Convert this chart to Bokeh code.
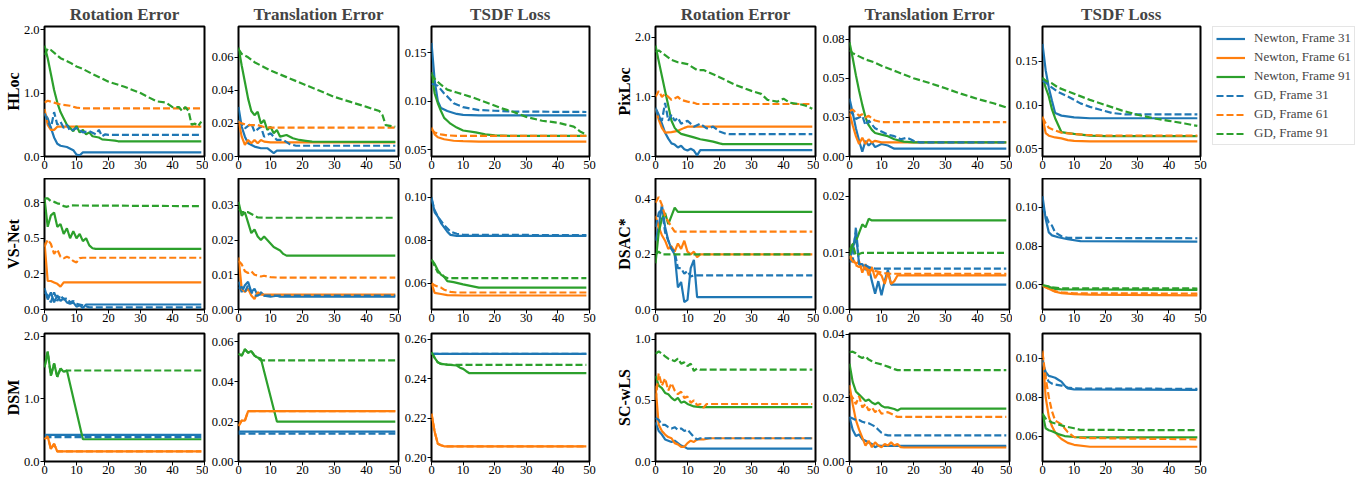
from bokeh.plotting import figure
from bokeh.layouts import column, row
from bokeh.models import FixedTicker, Legend, LegendItem, Range1d
from bokeh.embed import file_html
from bokeh.resources import INLINE

FONT = "Liberation Serif"

# ---------------- data (iteration, value) breakpoints ----------------
SERIES_KEYS = ["n31", "n61", "n91", "g31", "g61", "g91"]
SERIES_LABELS = ["Newton, Frame 31", "Newton, Frame 61", "Newton, Frame 91",
                 "GD, Frame 31", "GD, Frame 61", "GD, Frame 91"]
SERIES_COLORS = ["#1f77b4", "#ff7f0e", "#2ca02c", "#1f77b4", "#ff7f0e", "#2ca02c"]
SERIES_DASH = ["solid", "solid", "solid", "7 3", "7 3", "7 3"]

METRICS = ["Rotation Error", "Translation Error", "TSDF Loss"]
METHODS_LEFT = ["HLoc", "VS-Net", "DSM"]
METHODS_RIGHT = ["PixLoc", "DSAC*", "SC-wLS"]
X_TICKS = [0, 10, 20, 30, 40, 50]

hloc_rot = dict(
    n31=[(0,.68),(1,.6),(2,.45),(3,.3),(4,.2),(5,.17),(7,.15),(9,.1),(10,.03),(11,.02),(12,.065),(49,.065)],
    n61=[(0,.75),(1,.5),(2,.42),(3,.42),(4,.47),(49,.47)],
    n91=[(0,1.75),(1,1.55),(2,1.3),(3,1.05),(4,.85),(5,.7),(6,.6),(7,.5),(8,.45),(9,.4),(10,.48),(11,.38),(12,.42),(13,.35),(14,.38),(15,.32),(17,.3),(18,.27),(20,.26),(22,.25),(23,.24),(49,.24)],
    g31=[(0,.68),(1,.55),(2,.45),(3,.7),(4,.5),(5,.55),(6,.45),(7,.5),(8,.4),(10,.45),(12,.38),(14,.4),(16,.35),(17,.42),(18,.32),(19,.35),(20,.34),(49,.34)],
    g61=[(0,.85),(1,.88),(3,.85),(5,.82),(8,.8),(10,.77),(12,.76),(49,.76)],
    g91=[(0,1.6),(1,1.7),(2,1.68),(5,1.55),(8,1.48),(10,1.42),(12,1.38),(15,1.3),(20,1.18),(25,1.1),(30,1.0),(35,.87),(38,.85),(40,.78),(42,.78),(43,.72),(44,.78),(45,.72),(46,.5),(47,.52),(48,.48),(49,.55)],
)
hloc_trans = dict(
    n31=[(0,.03),(1,.018),(2,.012),(3,.008),(5,.006),(7,.005),(9,.005),(11,.002),(12,.0035),(49,.0035)],
    n61=[(0,.022),(1,.012),(2,.007),(3,.01),(4,.008),(5,.01),(6,.008),(7,.01),(8,.009),(10,.0085),(49,.0085)],
    n91=[(0,.066),(1,.055),(2,.045),(3,.035),(4,.0275),(5,.025),(6,.027),(7,.02),(8,.022),(9,.016),(10,.018),(11,.014),(12,.016),(13,.012),(15,.013),(17,.011),(19,.01),(21,.0095),(23,.009),(49,.0088)],
    g31=[(0,.022),(2,.017),(4,.02),(5,.015),(7,.018),(8,.012),(10,.014),(12,.01),(14,.01),(16,.0075),(18,.0065),(49,.0065)],
    g61=[(0,.021),(1,.02),(3,.019),(6,.019),(8,.0178),(10,.0175),(49,.0175)],
    g91=[(0,.065),(1,.062),(3,.06),(5,.057),(8,.054),(10,.052),(15,.048),(20,.044),(25,.04),(30,.036),(35,.033),(40,.03),(44,.0275),(45,.025),(46,.019),(49,.018)],
)
hloc_tsdf = dict(
    n31=[(0,.16),(1,.1215),(2,.1),(3,.093),(5,.09),(8,.087),(10,.086),(15,.0855),(49,.0855)],
    n61=[(0,.073),(1,.066),(2,.063),(4,.061),(7,.0595),(10,.059),(15,.0585),(49,.0585)],
    n91=[(0,.13),(1,.108),(2,.098),(3,.09),(4,.083),(5,.08),(6,.077),(8,.073),(10,.07),(14,.068),(17,.066),(20,.065),(25,.0645),(49,.0645)],
    g31=[(0,.118),(1,.117),(2,.116),(3,.112),(4,.108),(5,.105),(7,.098),(10,.094),(15,.091),(20,.0903),(25,.0895),(49,.089)],
    g61=[(0,.071),(1,.068),(3,.066),(5,.065),(8,.0645),(49,.0645)],
    g91=[(0,.128),(1,.123),(3,.117),(5,.112),(8,.109),(10,.107),(13,.104),(18,.098),(22,.093),(26,.089),(30,.084),(35,.08),(40,.078),(45,.074),(47,.069),(49,.066)],
)
pix_rot = dict(
    n31=[(0,.82),(1,.7),(2,.55),(3,.4),(4,.3),(5,.22),(6,.2),(7,.15),(8,.18),(9,.12),(10,.1),(11,.13),(12,.1),(13,.02),(14,.106),(49,.106)],
    n61=[(0,.8),(1,.62),(2,.48),(3,.4),(5,.41),(7,.43),(9,.48),(10,.5),(49,.5)],
    n91=[(0,1.86),(1,1.6),(2,1.35),(3,1.1),(4,.85),(5,.6),(6,.48),(7,.42),(8,.38),(10,.35),(12,.32),(14,.29),(16,.27),(18,.25),(20,.22),(21,.207),(49,.207)],
    g31=[(0,.8),(1,.65),(2,.6),(3,.9),(4,.6),(5,.7),(6,.6),(7,.65),(8,.55),(10,.6),(12,.5),(14,.55),(16,.47),(18,.5),(20,.42),(22,.38),(23,.375),(49,.375)],
    g61=[(0,1.0),(1,1.1),(2,1.0),(3,1.05),(5,.95),(7,1.0),(8,.95),(10,.92),(12,.9),(13,.88),(49,.88)],
    g91=[(0,1.75),(1,1.78),(3,1.7),(5,1.62),(7,1.58),(10,1.55),(13,1.45),(15,1.45),(20,1.33),(25,1.2),(30,1.1),(33,1.05),(35,.95),(38,.92),(40,.97),(42,.9),(45,.88),(47,.85),(49,.8)],
)
pix_trans = dict(
    n31=[(0,.037),(1,.028),(2,.018),(3,.01),(4,.003),(5,.01),(6,.007),(7,.009),(8,.006),(10,.008),(12,.007),(14,.005),(49,.005)],
    n61=[(0,.028),(1,.02),(2,.013),(3,.008),(4,.012),(5,.008),(6,.011),(7,.009),(8,.01),(10,.009),(49,.009)],
    n91=[(0,.073),(1,.063),(2,.052),(3,.042),(4,.033),(5,.025),(6,.02),(7,.017),(8,.015),(10,.014),(12,.013),(14,.011),(17,.0095),(20,.009),(49,.009)],
    g31=[(0,.03),(2,.024),(4,.026),(5,.02),(6,.023),(8,.018),(10,.016),(12,.014),(14,.013),(16,.011),(18,.012),(20,.01),(22,.009),(49,.009)],
    g61=[(0,.029),(1,.03),(2,.028),(3,.026),(4,.027),(5,.025),(6,.026),(8,.023),(10,.022),(49,.022)],
    g91=[(0,.068),(1,.066),(3,.064),(5,.062),(8,.06),(10,.058),(15,.054),(20,.05),(25,.047),(30,.0436),(35,.04),(40,.0368),(45,.034),(49,.0314)],
)
pix_tsdf = dict(
    n31=[(0,.17),(1,.14),(2,.12),(3,.105),(4,.091),(6,.088),(10,.086),(15,.085),(49,.085)],
    n61=[(0,.087),(1,.068),(2,.065),(4,.063),(6,.062),(8,.06),(10,.059),(15,.0585),(49,.0585)],
    n91=[(0,.132),(1,.12),(2,.11),(3,.095),(4,.085),(5,.077),(6,.069),(8,.068),(10,.067),(15,.065),(20,.0645),(49,.0645)],
    g31=[(0,.128),(1,.126),(2,.123),(3,.12),(5,.115),(8,.11),(10,.106),(12,.102),(15,.098),(18,.095),(22,.091),(26,.0895),(49,.0895)],
    g61=[(0,.086),(1,.079),(2,.074),(4,.071),(6,.0685),(10,.067),(14,.0658),(20,.065),(49,.065)],
    g91=[(0,.131),(1,.128),(3,.125),(5,.12),(10,.113),(15,.106),(20,.1),(25,.094),(30,.089),(35,.085),(40,.082),(45,.079),(49,.0762)],
)
vsnet_rot = dict(
    n31=[(0,.15),(1,.07),(2,.12),(3,.05),(4,.1),(5,.06),(6,.08),(7,.05),(8,.04),(9,.05),(10,.02),(11,.03),(12,.01),(13,.035),(49,.035)],
    n61=[(0,.47),(1,.2),(2,.2),(3,.19),(4,.18),(5,.16),(6,.19),(49,.19)],
    n91=[(0,.78),(1,.58),(2,.66),(3,.68),(4,.58),(5,.6),(6,.53),(7,.57),(8,.5),(9,.55),(10,.5),(11,.53),(12,.48),(13,.5),(14,.45),(15,.43),(16,.425),(49,.425)],
    g31=[(0,.12),(1,.1),(2,.05),(3,.12),(4,.06),(5,.1),(6,.07),(7,.08),(8,.05),(9,.06),(10,.04),(12,.03),(14,.015),(49,.015)],
    g61=[(0,.44),(1,.49),(2,.46),(3,.39),(4,.42),(5,.37),(6,.36),(7,.37),(8,.36),(9,.34),(10,.33),(11,.36),(12,.363),(49,.363)],
    g91=[(0,.78),(1,.78),(2,.76),(3,.755),(4,.745),(5,.74),(6,.725),(7,.72),(8,.73),(49,.725)],
)
vsnet_trans = dict(
    n31=[(0,.008),(1,.005),(2,.007),(3,.008),(4,.005),(5,.006),(6,.004),(7,.005),(8,.004),(10,.0037),(12,.004),(13,.0037),(49,.0037)],
    n61=[(0,.015),(1,.006),(2,.005),(3,.006),(4,.004),(5,.003),(6,.005),(7,.0043),(49,.0043)],
    n91=[(0,.031),(1,.027),(2,.028),(3,.025),(4,.022),(5,.023),(6,.021),(7,.02),(8,.021),(9,.02),(10,.019),(11,.018),(13,.017),(14,.016),(15,.0155),(49,.0155)],
    g31=[(0,.006),(1,.0065),(2,.005),(3,.007),(4,.005),(5,.004),(6,.004),(7,.0045),(8,.004),(49,.004)],
    g61=[(0,.014),(1,.013),(2,.011),(3,.0105),(4,.011),(5,.01),(6,.0098),(7,.0095),(8,.0097),(10,.0093),(12,.0092),(49,.0092)],
    g91=[(0,.029),(1,.028),(3,.028),(5,.027),(6,.0265),(8,.0264),(49,.0264)],
)
vsnet_tsdf = dict(
    n31=[(0,.1),(1,.093),(2,.091),(3,.088),(4,.086),(5,.084),(6,.0825),(8,.082),(49,.082)],
    n61=[(0,.06),(1,.0555),(3,.055),(5,.0545),(10,.0543),(49,.0543)],
    n91=[(0,.071),(1,.069),(2,.066),(3,.064),(4,.063),(5,.061),(7,.0605),(10,.0595),(15,.058),(49,.058)],
    g31=[(0,.099),(1,.094),(2,.091),(3,.089),(4,.087),(6,.084),(8,.083),(10,.0825),(49,.0824)],
    g61=[(0,.06),(1,.059),(3,.058),(4,.057),(6,.056),(8,.0557),(49,.0557)],
    g91=[(0,.071),(1,.068),(2,.065),(3,.0648),(4,.063),(5,.0624),(49,.0624)],
)
dsac_rot = dict(
    n31=[(0,.25),(1,.3),(2,.38),(3,.3),(4,.25),(5,.22),(6,.2),(7,.08),(8,.1),(9,.027),(10,.035),(11,.15),(12,.18),(13,.045),(49,.045)],
    n61=[(0,.34),(1,.3),(2,.27),(3,.25),(4,.22),(5,.23),(6,.21),(7,.24),(8,.22),(9,.25),(10,.21),(11,.2),(12,.21),(13,.19),(14,.2),(49,.2)],
    n91=[(0,.168),(1,.28),(2,.33),(3,.35),(4,.31),(5,.34),(6,.37),(7,.355),(49,.355)],
    g31=[(0,.3),(1,.35),(2,.37),(3,.28),(4,.25),(5,.22),(6,.21),(7,.15),(8,.15),(9,.13),(10,.14),(11,.12),(12,.124),(49,.124)],
    g61=[(0,.388),(1,.409),(2,.38),(3,.34),(4,.32),(5,.3),(6,.283),(49,.283)],
    g91=[(0,.2),(1,.21),(2,.2),(3,.2),(49,.2)],
)
dsac_trans = dict(
    n31=[(0,.009),(1,.0105),(2,.0135),(3,.008),(4,.008),(5,.007),(6,.0075),(7,.005),(8,.0028),(9,.005),(10,.0025),(11,.005),(12,.007),(13,.0044),(49,.0044)],
    n61=[(0,.0095),(1,.009),(2,.008),(3,.0085),(4,.0065),(5,.008),(6,.006),(7,.0075),(8,.0055),(9,.0065),(10,.006),(11,.0045),(12,.0065),(13,.0045),(14,.005),(15,.006),(49,.006)],
    n91=[(0,.0096),(1,.0115),(2,.012),(3,.0135),(4,.015),(5,.0145),(6,.016),(7,.0157),(49,.0157)],
    g31=[(0,.0085),(1,.0085),(2,.0145),(3,.008),(4,.008),(5,.0078),(6,.0075),(7,.0073),(8,.0072),(49,.0072)],
    g61=[(0,.0092),(1,.0085),(2,.0078),(3,.0075),(4,.0075),(5,.0072),(6,.007),(8,.0068),(10,.0065),(12,.0063),(49,.0063)],
    g91=[(0,.0105),(1,.0115),(2,.0095),(3,.0098),(4,.01),(49,.01)],
)
dsac_tsdf = dict(
    n31=[(0,.1056),(1,.094),(2,.087),(3,.0855),(5,.0845),(8,.0835),(12,.0825),(49,.0823)],
    n61=[(0,.0595),(2,.058),(4,.0565),(6,.0558),(10,.0553),(15,.055),(49,.0547)],
    n91=[(0,.0595),(2,.059),(4,.058),(6,.0577),(49,.0575)],
    g31=[(0,.1),(1,.096),(2,.092),(3,.0905),(4,.087),(6,.085),(8,.0842),(49,.084)],
    g61=[(0,.06),(2,.058),(4,.0568),(6,.0562),(10,.0557),(49,.0556)],
    g91=[(0,.06),(3,.0588),(6,.0583),(49,.0582)],
)
dsm_rot = dict(
    n31=[(0,.423),(49,.423)],
    n61=[(0,.355),(1,.4),(2,.2),(3,.28),(4,.16),(49,.16)],
    n91=[(0,1.5),(1,1.75),(2,1.37),(3,1.56),(4,1.35),(5,1.48),(6,1.43),(7,1.45),(12,.355),(49,.355)],
    g31=[(0,.39),(49,.39)],
    g61=[(0,.355),(1,.4),(2,.2),(3,.28),(4,.16),(49,.16)],
    g91=[(0,1.5),(1,1.75),(2,1.37),(3,1.56),(4,1.35),(5,1.48),(6,1.43),(7,1.45),(49,1.45)],
)
dsm_trans = dict(
    n31=[(0,.015),(49,.015)],
    n61=[(0,.0178),(1,.0205),(2,.0205),(3,.0252),(49,.0252)],
    n91=[(0,.054),(1,.053),(2,.0562),(3,.0545),(4,.0553),(5,.053),(6,.052),(7,.0515),(12,.02),(49,.02)],
    g31=[(0,.014),(49,.014)],
    g61=[(0,.0178),(1,.0205),(2,.0205),(3,.0252),(49,.0252)],
    g91=[(0,.054),(1,.053),(2,.0562),(3,.0545),(4,.0553),(5,.053),(6,.052),(7,.0506),(49,.0506)],
)
dsm_tsdf = dict(
    n31=[(0,.2525),(49,.2525)],
    n61=[(0,.2222),(1,.213),(2,.207),(3,.2062),(4,.2057),(49,.2057)],
    n91=[(0,.2533),(1,.2505),(2,.2482),(3,.2474),(5,.247),(8,.2466),(9,.2455),(10,.2449),(11,.2437),(12,.2427),(49,.2427)],
    g31=[(0,.2525),(49,.2525)],
    g61=[(0,.2222),(1,.213),(2,.207),(3,.2062),(4,.2057),(49,.2057)],
    g91=[(0,.2533),(1,.2505),(2,.2482),(3,.2474),(5,.247),(7,.2469),(49,.2469)],
)
scwls_rot = dict(
    n31=[(0,.32),(1,.25),(2,.22),(3,.18),(4,.17),(5,.16),(6,.17),(7,.15),(8,.13),(9,.12),(10,.105),(49,.105)],
    n61=[(0,.62),(1,.3),(2,.25),(3,.22),(4,.2),(5,.19),(6,.15),(7,.14),(8,.12),(9,.12),(10,.15),(11,.17),(12,.16),(13,.18),(15,.18),(17,.19),(49,.19)],
    n91=[(0,.7),(1,.62),(2,.6),(3,.56),(4,.55),(5,.52),(6,.5),(7,.52),(8,.48),(9,.49),(10,.47),(11,.46),(12,.45),(14,.445),(49,.445)],
    g31=[(0,.356),(1,.34),(2,.3),(3,.3),(4,.28),(5,.27),(6,.28),(7,.26),(8,.27),(9,.25),(10,.26),(11,.23),(12,.2),(13,.18),(14,.19),(49,.19)],
    g61=[(0,.5),(1,.72),(2,.62),(3,.68),(4,.58),(5,.64),(6,.58),(7,.55),(8,.57),(9,.52),(10,.53),(11,.48),(12,.5),(13,.46),(14,.47),(15,.44),(16,.47),(49,.47)],
    g91=[(0,.88),(1,.9),(2,.88),(3,.86),(4,.84),(5,.83),(6,.82),(7,.84),(8,.8),(9,.81),(10,.78),(11,.8),(12,.74),(13,.76),(14,.75),(49,.75)],
)
scwls_trans = dict(
    n31=[(0,.014),(1,.01),(2,.008),(3,.0085),(4,.007),(5,.0065),(6,.006),(7,.0055),(8,.0045),(9,.005),(10,.0049),(49,.0049)],
    n61=[(0,.024),(1,.018),(2,.013),(3,.01),(4,.0075),(5,.005),(6,.0065),(7,.0045),(8,.006),(9,.005),(10,.0045),(11,.0055),(12,.005),(13,.006),(14,.005),(15,.0055),(16,.0045),(17,.0044),(49,.0044)],
    n91=[(0,.0307),(1,.025),(2,.022),(3,.021),(4,.02),(5,.019),(6,.0195),(7,.0185),(8,.018),(9,.0185),(10,.0175),(11,.017),(12,.017),(14,.0165),(15,.016),(16,.0166),(49,.0166)],
    g31=[(0,.014),(1,.0135),(2,.013),(3,.013),(4,.0125),(5,.0122),(6,.012),(7,.0115),(8,.011),(9,.01),(10,.009),(11,.0085),(12,.0082),(49,.0082)],
    g61=[(0,.0214),(1,.02),(2,.018),(3,.0205),(4,.017),(5,.018),(6,.016),(7,.017),(8,.0155),(9,.0165),(10,.015),(12,.0155),(14,.0145),(15,.014),(49,.014)],
    g91=[(0,.0343),(1,.0345),(2,.034),(3,.033),(4,.0325),(5,.033),(6,.032),(7,.0315),(8,.031),(10,.0305),(12,.0298),(14,.029),(15,.0287),(49,.0287)],
)
scwls_tsdf = dict(
    n31=[(0,.098),(1,.093),(2,.091),(3,.0905),(4,.09),(5,.089),(6,.088),(7,.086),(8,.0845),(10,.084),(49,.0838)],
    n61=[(0,.104),(1,.08),(2,.07),(3,.065),(4,.062),(5,.06),(6,.0585),(8,.0565),(10,.0555),(15,.0545),(49,.0545)],
    n91=[(0,.0716),(1,.064),(2,.063),(3,.0625),(5,.061),(7,.06),(10,.0595),(15,.0593),(49,.0593)],
    g31=[(0,.099),(1,.091),(2,.088),(3,.087),(4,.0865),(6,.086),(8,.085),(10,.0845),(49,.0843)],
    g61=[(0,.103),(1,.09),(2,.08),(3,.0727),(4,.068),(6,.066),(8,.062),(10,.0595),(13,.059),(49,.0583)],
    g91=[(0,.0716),(1,.069),(2,.068),(3,.067),(5,.066),(7,.065),(10,.064),(12,.0632),(49,.063)],
)

# y ranges and y ticks (value, label) per panel
Y_RANGES = [
    [(0, 2.05), (0, 0.0786), (0.0433, 0.1768), (0, 2.18), (0, 0.0831), (0.0412, 0.190)],
    [(0, 0.919), (0, 0.0377), (0.0478, 0.1087), (0, 0.476), (0, 0.0231), (0.0474, 0.1147)],
    [(0, 2.04), (0, 0.0641), (0.198, 0.2628), (0, 1.046), (0, 0.0402), (0.0469, 0.1128)],
]
Y_TICKS = [
    [[0, 1, 2], [0, 0.02, 0.04, 0.06], [0.05, 0.10, 0.15], [0, 1, 2], [0, 0.025, 0.05, 0.075], [0.05, 0.10, 0.15]],
    [[0, 0.25, 0.5, 0.75], [0, 0.01, 0.02, 0.03], [0.06, 0.08, 0.10], [0, 0.2, 0.4], [0, 0.01, 0.02], [0.06, 0.08, 0.10]],
    [[0, 1, 2], [0, 0.02, 0.04, 0.06], [0.20, 0.22, 0.24, 0.26], [0, 0.5, 1.0], [0, 0.02, 0.04], [0.06, 0.08, 0.10]],
]
Y_TICK_LABELS = [
    [["0.0", "1.0", "2.0"], ["0.00", "0.02", "0.04", "0.06"], ["0.05", "0.10", "0.15"],
     ["0.0", "1.0", "2.0"], ["0.00", "0.03", "0.05", "0.08"], ["0.05", "0.10", "0.15"]],
    [["0.0", "0.2", "0.5", "0.8"], ["0.00", "0.01", "0.02", "0.03"], ["0.06", "0.08", "0.10"],
     ["0.0", "0.2", "0.4"], ["0.00", "0.01", "0.02"], ["0.06", "0.08", "0.10"]],
    [["0.0", "1.0", "2.0"], ["0.00", "0.02", "0.04", "0.06"], ["0.20", "0.22", "0.24", "0.26"],
     ["0.0", "0.5", "1.0"], ["0.00", "0.02", "0.04"], ["0.06", "0.08", "0.10"]],
]
PANEL_DATA = [
    [hloc_rot, hloc_trans, hloc_tsdf, pix_rot, pix_trans, pix_tsdf],
    [vsnet_rot, vsnet_trans, vsnet_tsdf, dsac_rot, dsac_trans, dsac_tsdf],
    [dsm_rot, dsm_trans, dsm_tsdf, scwls_rot, scwls_trans, scwls_tsdf],
]

# ---------------- layout geometry (page has no margin: Bokeh template) ----------------
FRAME_W = [160, 160, 158, 160, 160, 158]
FRAME_H = [130, 131, 128]
B_TOP = [26, 0, 5]
B_BOTTOM = [22, 19, 19]
B_LEFT = [44, 29, 30, 44, 29, 30]
B_RIGHT = [4, 3, 22, 4, 3, 8]
LEGEND_BORDER_RIGHT = 158


def make_panel(r, c):
    data = PANEL_DATA[r][c]
    kw = {}
    if r == 0:
        kw["title"] = METRICS[c % 3]
    br = LEGEND_BORDER_RIGHT if (r == 0 and c == 5) else B_RIGHT[c]
    p = figure(frame_width=FRAME_W[c], frame_height=FRAME_H[r],
               x_range=Range1d(0, 50), y_range=Range1d(*Y_RANGES[r][c]),
               output_backend="svg", toolbar_location=None,
               min_border_left=B_LEFT[c], min_border_right=br,
               min_border_top=B_TOP[r], min_border_bottom=B_BOTTOM[r],
               background_fill_color="white", border_fill_color="white", **kw)
    if r == 0:
        p.title.text_font = FONT
        p.title.text_font_size = "17px"
        p.title.text_font_style = "bold"
        p.title.align = "center"
        p.title.standoff = 5
        p.title.offset = 0
    p.xgrid.visible = False
    p.ygrid.visible = False
    p.outline_line_color = "black"
    p.outline_line_width = 2
    p.outline_line_alpha = 1.0

    p.xaxis.ticker = FixedTicker(ticks=X_TICKS)
    p.yaxis.ticker = FixedTicker(ticks=Y_TICKS[r][c])
    p.yaxis.major_label_overrides = {t: l for t, l in zip(Y_TICKS[r][c], Y_TICK_LABELS[r][c])}
    for ax in (p.xaxis[0], p.yaxis[0]):
        ax.axis_line_color = None
        ax.major_tick_out = 4
        ax.major_tick_in = 0
        ax.minor_tick_out = 0
        ax.minor_tick_in = 0
        ax.major_tick_line_color = "black"
        ax.major_tick_line_width = 1
        ax.major_label_text_font = FONT
        ax.major_label_text_font_size = "12.5px"
        ax.major_label_text_color = "black"
    p.xaxis.major_label_standoff = 0
    p.yaxis.major_label_standoff = 1
    if c in (0, 3):
        p.yaxis.axis_label = (METHODS_LEFT if c == 0 else METHODS_RIGHT)[r]
        p.yaxis.axis_label_text_font = FONT
        p.yaxis.axis_label_text_font_size = "16px"
        p.yaxis.axis_label_text_font_style = "bold"
        p.yaxis.axis_label_text_color = "black"
        p.yaxis.axis_label_standoff = -1

    renderers = []
    for key, color, dash in zip(SERIES_KEYS, SERIES_COLORS, SERIES_DASH):
        pts = data[key]
        xs = [a for a, _ in pts]
        ys = [b for _, b in pts]
        rr = p.line(xs, ys, line_color=color, line_width=2.2, line_dash=dash)
        renderers.append(rr)

    if r == 0 and c == 5:
        items = [LegendItem(label=lab, renderers=[rr]) for lab, rr in zip(SERIES_LABELS, renderers)]
        legend = Legend(items=items, location=(12, 11), margin=0, padding=3, spacing=3,
                        label_text_font=FONT, label_text_font_size="13px",
                        label_height=15, glyph_height=15, glyph_width=29, label_standoff=9,
                        border_line_color="#cccccc", border_line_width=1,
                        background_fill_color="white", background_fill_alpha=1.0)
        p.add_layout(legend, "right")
    return p


rows = []
for r in range(3):
    rows.append(row([make_panel(r, c) for c in range(6)], spacing=0))
layout = column(rows, spacing=0)

open("out.html", "w").write(file_html(layout, INLINE))
